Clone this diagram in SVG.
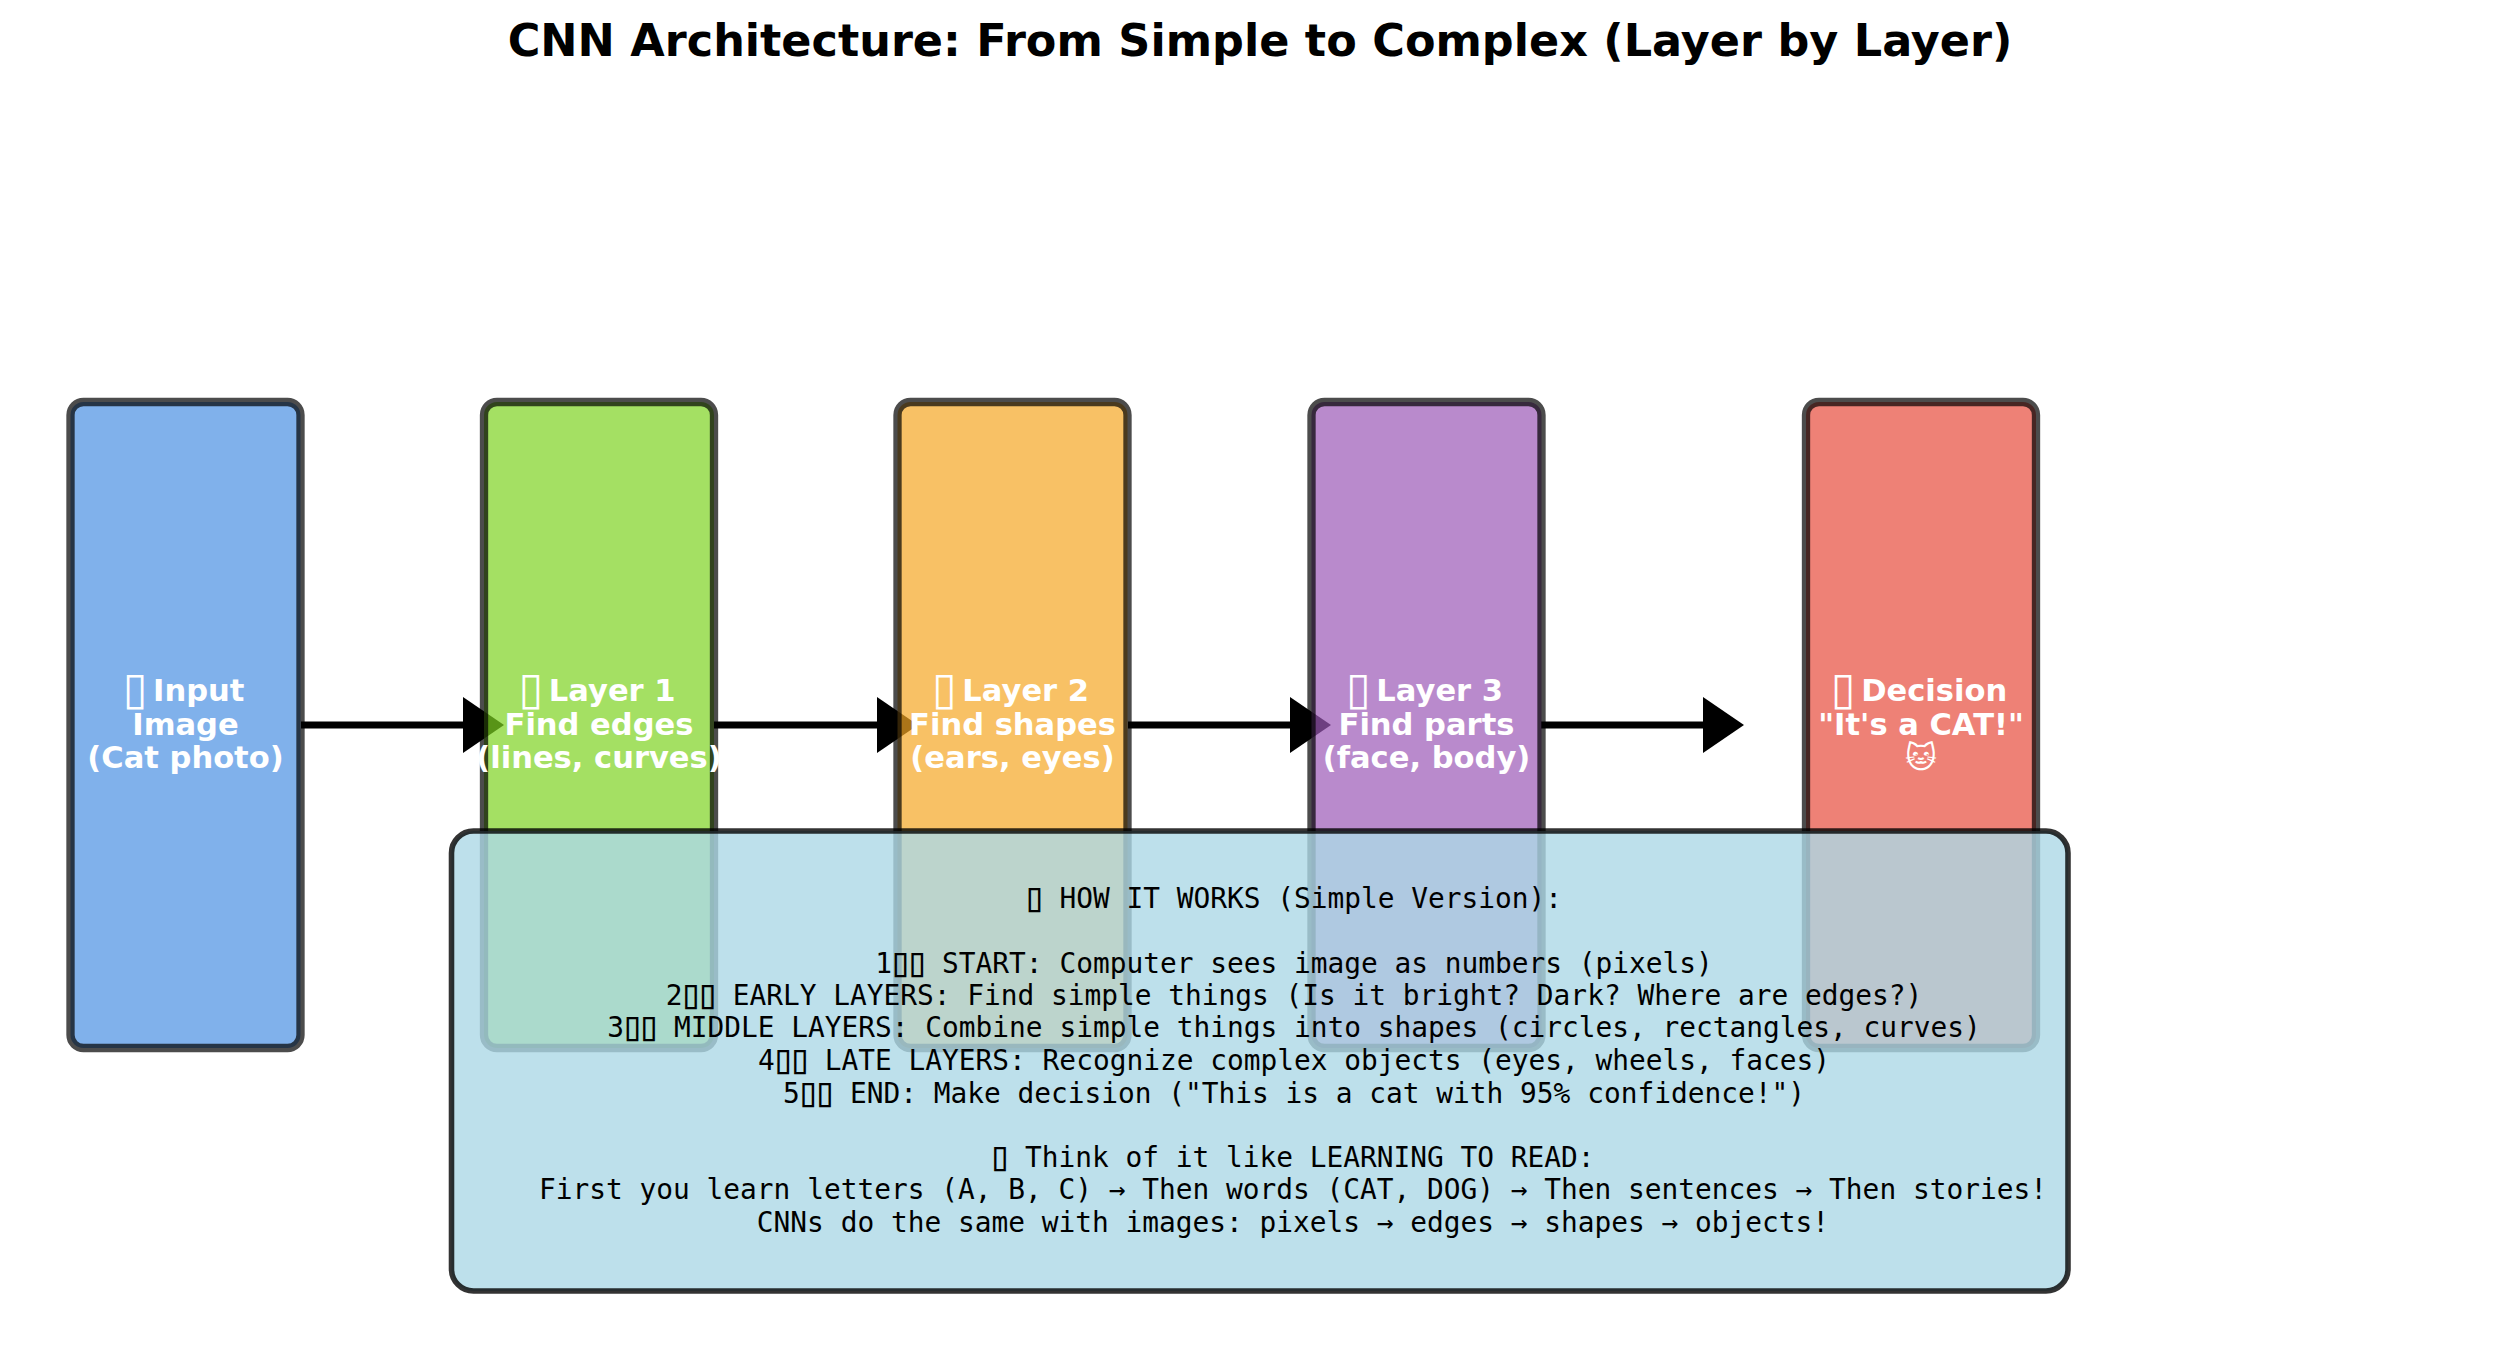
<svg xmlns="http://www.w3.org/2000/svg" width="2520" height="1361" viewBox="0 0 2520 1361">
<style>
.box{stroke:#000;stroke-width:8.33;stroke-opacity:.7;fill-opacity:.7}
.lbl{font:bold 30.56px "DejaVu Sans",sans-serif;fill:#fff;text-anchor:middle}
.t{font-weight:normal;font-size:45px}
.m{font-size:41px}
.mono{font:27.83px "DejaVu Sans Mono",monospace;fill:#000;text-anchor:middle}
.title{font:bold 44.53px "DejaVu Sans",sans-serif;fill:#000;text-anchor:middle}
.line{stroke:#000;stroke-width:6.94;fill:none}
</style>
<rect width="2520" height="1361" fill="#fff"/>
<text class="title" x="1260" y="56">CNN Architecture: From Simple to Complex (Layer by Layer)</text>
<g id="connectors">
<path class="line" d="M301 725H470"/><polygon points="463,697 504,725 463,753"/>
<path class="line" d="M714 725H884"/><polygon points="877,697 918,725 877,753"/>
<path class="line" d="M1128 725H1297"/><polygon points="1290,697 1331,725 1290,753"/>
<path class="line" d="M1541 725H1710"/><polygon points="1703,697 1744,725 1703,753"/>
</g>
<g id="input"><rect class="box" x="70.500" y="402" width="230" height="646" rx="13" fill="#4A90E2"/>
<text class="lbl" x="188.500" y="701"><tspan class="t" dx="-5" dy="3">▯</tspan><tspan dx="-5" dy="-3"> Input</tspan></text><text class="lbl" x="185.500" y="734.500">Image</text><text class="lbl" x="185.500" y="768">(Cat photo)</text></g>
<g id="layer1"><rect class="box" x="484" y="402" width="230" height="646" rx="13" fill="#7ED321"/>
<text class="lbl" x="602" y="701"><tspan class="t" dx="-5" dy="3">▯</tspan><tspan dx="-5" dy="-3"> Layer 1</tspan></text><text class="lbl" x="599" y="734.500">Find edges</text><text class="lbl" x="599" y="768">(lines, curves)</text></g>
<g id="layer2"><rect class="box" x="897.500" y="402" width="230" height="646" rx="13" fill="#F5A623"/>
<text class="lbl" x="1015.500" y="701"><tspan class="t" dx="-5" dy="3">▯</tspan><tspan dx="-5" dy="-3"> Layer 2</tspan></text><text class="lbl" x="1012.500" y="734.500">Find shapes</text><text class="lbl" x="1012.500" y="768">(ears, eyes)</text></g>
<g id="layer3"><rect class="box" x="1311.500" y="402" width="230" height="646" rx="13" fill="#9B59B6"/>
<text class="lbl" x="1429.500" y="701"><tspan class="t" dx="-5" dy="3">▯</tspan><tspan dx="-5" dy="-3"> Layer 3</tspan></text><text class="lbl" x="1426.500" y="734.500">Find parts</text><text class="lbl" x="1426.500" y="768">(face, body)</text></g>
<g id="decision"><rect class="box" x="1806" y="402" width="230" height="646" rx="13" fill="#E74C3C"/>
<text class="lbl" x="1924" y="701"><tspan class="t" dx="-5" dy="3">▯</tspan><tspan dx="-5" dy="-3"> Decision</tspan></text><text class="lbl" x="1921" y="734.500">"It's a CAT!"</text><text class="lbl" x="1921" y="768">🐱</text></g>
<g id="panel"><rect x="451.500" y="831" width="1616.500" height="460" rx="22" fill="#ADD8E6" fill-opacity=".8" stroke="#000" stroke-opacity=".8" stroke-width="5.56"/>
<text class="mono" x="1296" y="908"><tspan class="m" dx="-4" dy="3">▯</tspan><tspan dx="-4" dy="-3"> HOW IT WORKS (Simple Version):</tspan></text>
<text class="mono" x="1294" y="973">1<tspan class="m" dx="-4 -8" dy="3">▯▯</tspan><tspan dx="-4" dy="-3"> START: Computer sees image as numbers (pixels)</tspan></text>
<text class="mono" x="1294" y="1005">2<tspan class="m" dx="-4 -8" dy="3">▯▯</tspan><tspan dx="-4" dy="-3"> EARLY LAYERS: Find simple things (Is it bright? Dark? Where are edges?)</tspan></text>
<text class="mono" x="1294" y="1037">3<tspan class="m" dx="-4 -8" dy="3">▯▯</tspan><tspan dx="-4" dy="-3"> MIDDLE LAYERS: Combine simple things into shapes (circles, rectangles, curves)</tspan></text>
<text class="mono" x="1294" y="1070">4<tspan class="m" dx="-4 -8" dy="3">▯▯</tspan><tspan dx="-4" dy="-3"> LATE LAYERS: Recognize complex objects (eyes, wheels, faces)</tspan></text>
<text class="mono" x="1294" y="1103">5<tspan class="m" dx="-4 -8" dy="3">▯▯</tspan><tspan dx="-4" dy="-3"> END: Make decision ("This is a cat with 95% confidence!")</tspan></text>
<text class="mono" x="1295" y="1167"><tspan class="m" dx="-4" dy="3">▯</tspan><tspan dx="-4" dy="-3"> Think of it like LEARNING TO READ:</tspan></text>
<text class="mono" x="1293" y="1199">First you learn letters (A, B, C) → Then words (CAT, DOG) → Then sentences → Then stories!</text>
<text class="mono" x="1293" y="1232">CNNs do the same with images: pixels → edges → shapes → objects!</text>
</g>
</svg>
